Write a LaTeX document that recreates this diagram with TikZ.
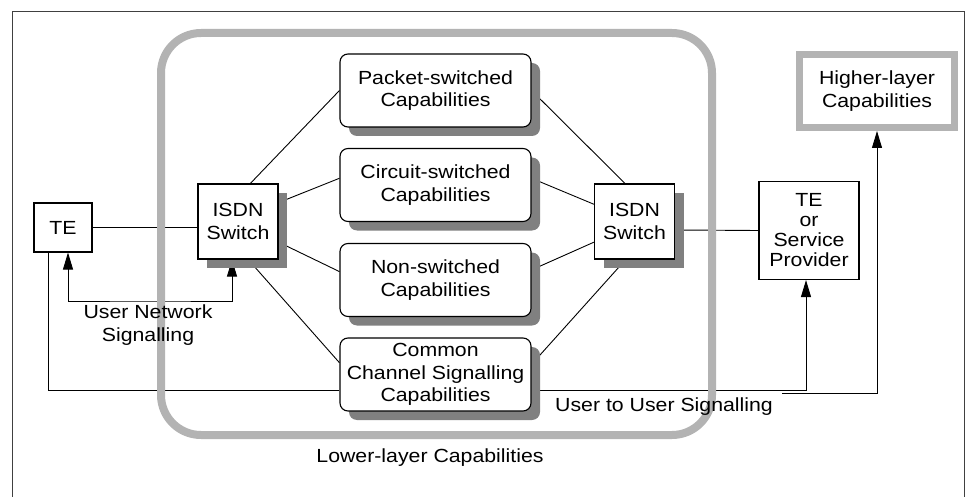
\documentclass[tikz,border=0pt]{standalone}
\usepackage{fontspec}
\setmainfont{Liberation Sans}[FakeStretch=1.12]
\usepackage{tikz}
\usetikzlibrary{arrows.meta}
\usetikzlibrary{shadows}
\usetikzlibrary{backgrounds}
\usepackage{xcolor}
\definecolor{ColFrame}{RGB}{64,64,64}
\definecolor{ColLayer}{RGB}{179,179,179}
\definecolor{ColShadow}{RGB}{128,128,128}
\tikzstyle{BoxText}=[align=center,inner sep=0pt,font=\fontsize{19}{22.5}\selectfont]
\tikzstyle{BoxShadow}=[drop shadow={shadow xshift=9pt,shadow yshift=-9pt,fill=ColShadow,opacity=1}]
\tikzstyle{CapBox}=[BoxText,draw,line width=1.1pt,fill=white,rounded corners=8pt,
minimum width=191pt,minimum height=73pt,BoxShadow]
\tikzstyle{SwitchBox}=[BoxText,draw,line width=1.1pt,fill=white,minimum width=80pt,
minimum height=75pt,BoxShadow]
\tikzstyle{PlainBox}=[BoxText,draw,line width=1.1pt,fill=white]
\tikzstyle{HigherBox}=[BoxText,draw=ColLayer,line width=7pt,fill=white,minimum width=155pt,
minimum height=73pt]
\tikzstyle{EdgeLink}=[black,line width=0.9pt]
\tikzstyle{LayerFrame}=[draw=ColLayer,line width=8pt,rounded corners=40pt]

\begin{document}
\begin{tikzpicture}[x=1pt,y=-1pt,>={Triangle[length=17pt,width=10pt]}]
        \useasboundingbox(0,0)rectangle(966,497);
        \node[CapBox](pkt)at(435.5,90.5){Packet-switched\\Capabilities};
        \node[CapBox](circ)at(435.5,185){Circuit-switched\\Capabilities};
        \node[CapBox](nons)at(435.5,280){Non-switched\\Capabilities};
        \node[CapBox](ccs)at(435.5,374.5){Common\\Channel Signalling\\Capabilities};
        \node[SwitchBox](swL)at(238,221.5){ISDN\\Switch};
        \node[SwitchBox](swR)at(634.5,221.5){ISDN\\Switch};
        \node[PlainBox,minimum width=58pt,minimum height=49pt](te)at(63,227.5){TE};
        \node[PlainBox,minimum width=100pt,minimum height=98pt,
            font=\fontsize{19}{20}\selectfont](tesp)at(809,230.5){TE\\or\\Service\\Provider};
        \node[HigherBox](high)at(877,91){Higher-layer\\Capabilities};
        \node[BoxText](unsig)at(148,325){User Network\\Signalling};
        \node[BoxText](uusig)at(664,407){User to User Signalling};
        \node[BoxText](lower)at(430,458){Lower-layer Capabilities};
        \coordinate(unc)at(150,301);
        \coordinate(uuc)at(782,393);
        \begin{scope}[on background layer]
        \draw[ColFrame,line width=0.9pt](12,497)--(12,11)--(964.5,11)--(964.5,497);
        \draw[EdgeLink](te.east)--(te.east-|swL.west);
        \draw[EdgeLink]([yshift=-8.5pt]swR.east)--(tesp.west);
        \draw[EdgeLink](swL.72)--(pkt.west);
        \draw[EdgeLink](swL.25)--(circ.176);
        \draw[EdgeLink](swL.-27)--(nons.175);
        \draw[EdgeLink](swL.-75)--(ccs.173);
        \draw[EdgeLink](swR.104)--(pkt.east);
        \draw[EdgeLink](swR.157)--(circ.4);
        \draw[EdgeLink](swR.-153)--(nons.6);
        \draw[EdgeLink](swR.-103)--(ccs.6);
        \draw[EdgeLink,<->]([xshift=5pt]te.south)|-(unc)-|([xshift=-6pt]swL.south);
        \draw[EdgeLink]([xshift=-15pt]te.south)|-([yshift=-16pt]ccs.west);
        \draw[EdgeLink,->]([yshift=-16pt]ccs.east)-|([xshift=-3pt]tesp.south);
        \draw[EdgeLink,->](uuc)-|(high.south);
        \draw[LayerFrame](161,33)rectangle(712,435);
        \end{scope}
    \end{tikzpicture}
\end{document}
